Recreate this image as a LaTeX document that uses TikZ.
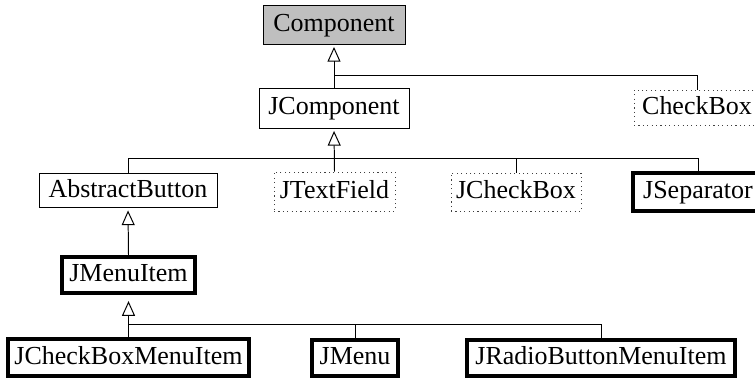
\documentclass[tikz,border=0pt]{standalone}
\usepackage{fontspec}
\setmainfont{Liberation Serif}
\usetikzlibrary{arrows.meta}
\newcommand\pxu{0.408pt}
\begin{document}
\begin{tikzpicture}[x=\pxu, y=-\pxu,
  cls/.style={draw, line width=0.4pt, inner xsep=1pt, inner ysep=0pt,
    text height=7pt, text depth=1.5pt, font=\fontsize{10.6}{12}\selectfont},
  sz/.style 2 args={minimum width={#1*0.408pt}, minimum height={#2*0.408pt}},
  root/.style={cls, fill=black!25},
  plain/.style={cls},
  dotbox/.style={cls, draw=black!75, dash pattern=on 0.45pt off 1.35pt},
  heavy/.style={cls, line width=1.6pt},
  link/.style={line width=0.4pt},
  isa/.style={link, -{Triangle[open, length=6pt, width=5.3pt]}}]
  \useasboundingbox (0,0) rectangle (755,379);

  % class boxes (the two rightmost run past the page edge)
  \node[root,   sz={142}{39}] (comp)   at (334,24.5)  {Component};
  \node[plain,  sz={150}{40}] (jcomp)  at (334,108)   {JComponent};
  \node[dotbox, sz={126}{35}] (cbox)   at (697,107.5) {CheckBox};
  \node[plain,  sz={178}{34}] (abtn)   at (128,190.5) {AbstractButton};
  \node[dotbox, sz={121}{39}] (jtf)    at (334.5,191.5) {JTextField};
  \node[dotbox, sz={130}{38}] (jcb)    at (516,192)   {JCheckBox};
  \node[heavy,  sz={130}{38}] (jsep)   at (698,192)   {JSeparator};
  \node[heavy,  sz={133}{36}] (jmi)    at (128.5,275) {JMenuItem};
  \node[heavy,  sz={241}{37}] (jcbmi)  at (128.5,357.5) {JCheckBoxMenuItem};
  \node[heavy,  sz={86}{36}]  (jmenu)  at (355,358)   {JMenu};
  \node[heavy,  sz={268}{36}] (jrbmi)  at (601,358)   {JRadioButtonMenuItem};

  % junction points of the shared branches
  \coordinate (b1) at (334,75);
  \coordinate (b2) at (334,158);
  \coordinate (b3) at (128.5,324);

  % Component subclasses
  \draw[isa, shorten >=1pt] (jcomp.north) -- (comp.south);
  \draw[link] (cbox.north) |- (b1);

  % JComponent subclasses
  \draw[isa, shorten >=1pt] (jtf.north) -- (jcomp.south);
  \draw[link] (abtn.north) |- (b2);
  \draw[link] (jcb.north) |- (b2);
  \draw[link] (jsep.north) |- (b2);

  % AbstractButton subclass
  \draw[isa, shorten >=1pt] (jmi.north) -- (abtn.south);

  % JMenuItem subclasses
  \draw[isa, shorten >=2.5pt] (jcbmi.north) -- (jmi.south);
  \draw[link] (jmenu.north) |- (b3);
  \draw[link] (jrbmi.north) |- (b3);
\end{tikzpicture}
\end{document}
